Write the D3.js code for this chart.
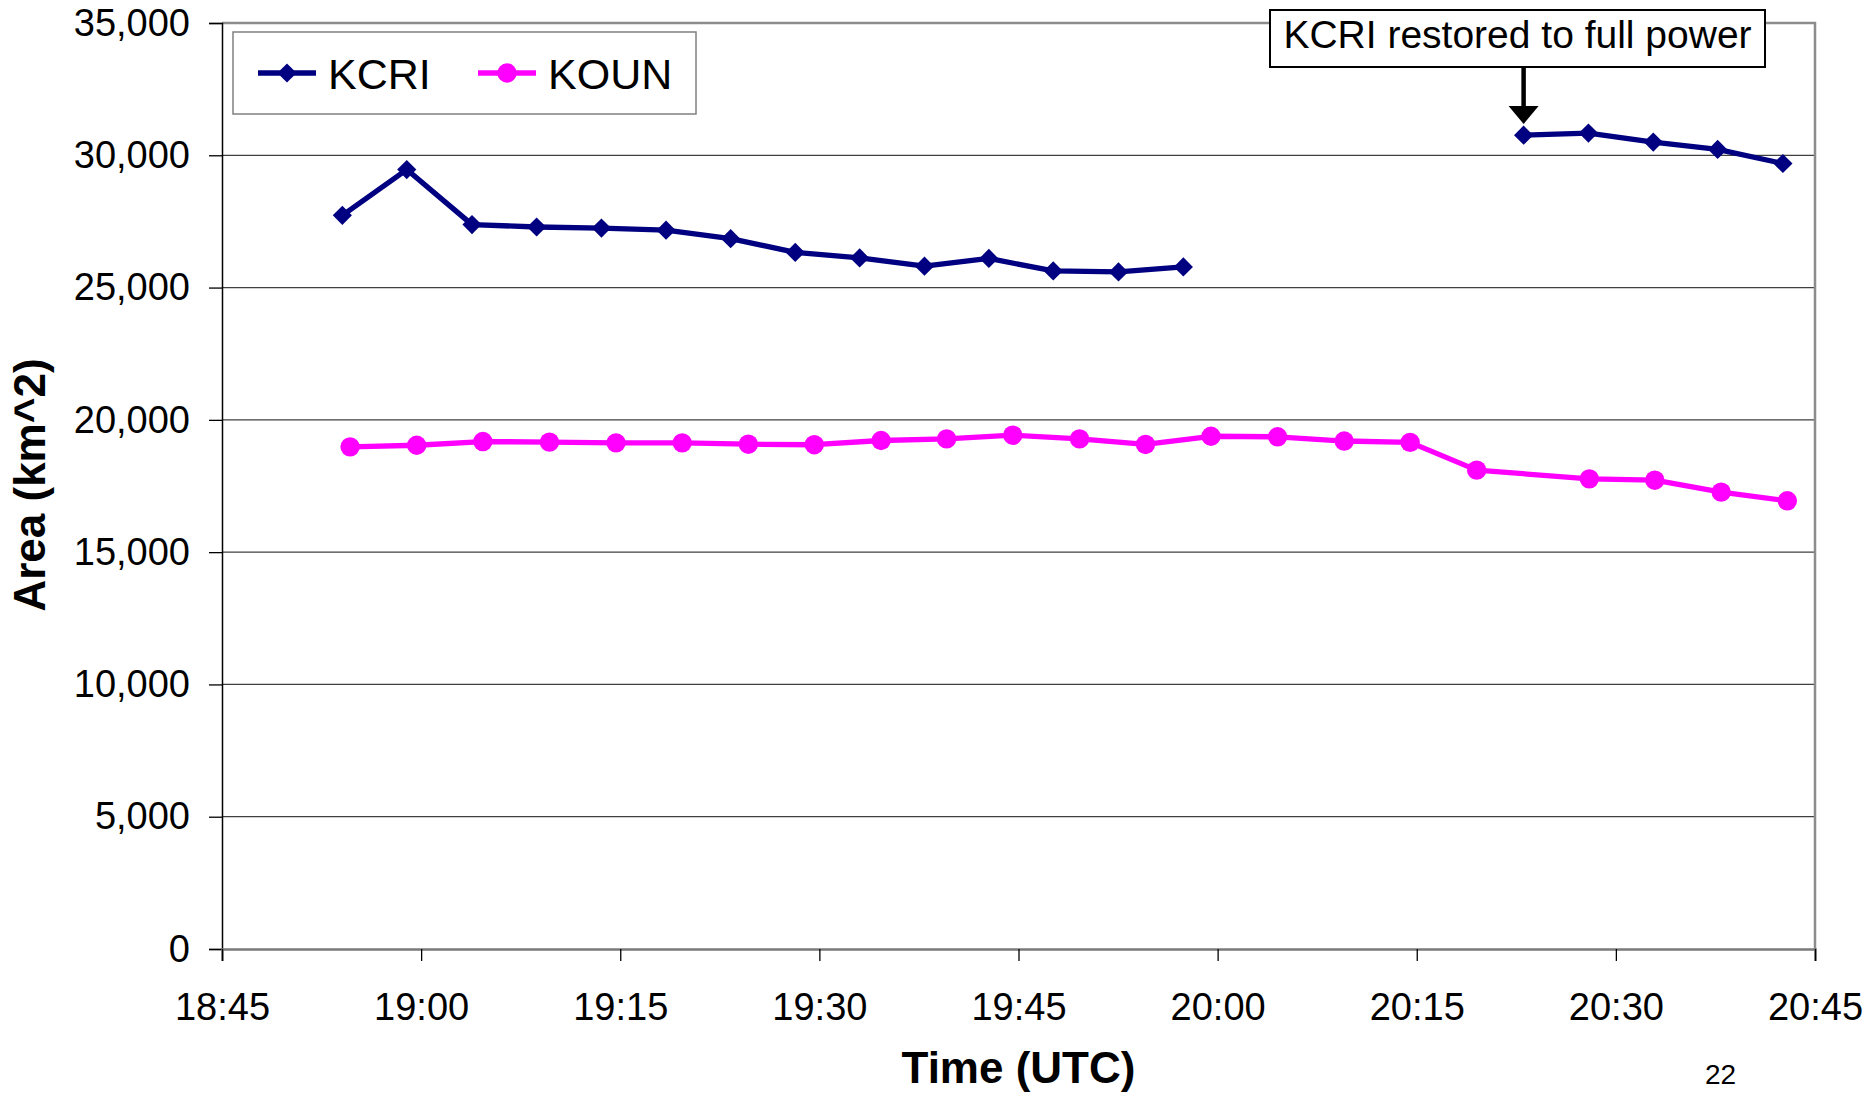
<!DOCTYPE html>
<html>
<head>
<meta charset="utf-8">
<script src="https://cdn.jsdelivr.net/npm/d3@7"></script>
<style>
  html, body { margin: 0; padding: 0; background: #fff; }
  svg { display: block; }
  text { font-family: "Liberation Sans", Arial, sans-serif; }
</style>
</head>
<body>
<svg id="chart" width="1870" height="1095"></svg>
<script>
// ---------------- data ----------------
const kcriTimes = ["18:54:04","18:58:55","19:03:50","19:08:42","19:13:35","19:18:27","19:23:19",
  "19:28:11","19:33:02","19:37:55","19:42:46","19:47:37","19:52:32","19:57:25",
  "20:23:03","20:27:56","20:32:49","20:37:40","20:42:35"];
const kcriValues = [27730,29460,27380,27290,27250,27170,26850,26330,26120,25810,26100,25630,25590,25780,
  30760,30840,30500,30220,29690];

const kounTimes = ["18:54:39","18:59:40","19:04:39","19:09:40","19:14:41","19:19:40","19:24:39",
  "19:29:37","19:34:39","19:39:35","19:44:34","19:49:36","19:54:34","19:59:30","20:04:31",
  "20:09:32","20:14:30","20:19:31","20:28:00","20:32:56","20:37:56","20:42:55"];
const kounValues = [18980,19040,19180,19160,19130,19130,19080,19060,19220,19280,19420,19280,19070,
  19380,19360,19200,19150,18100,17770,17720,17270,16940];

const xTickLabels = ["18:45","19:00","19:15","19:30","19:45","20:00","20:15","20:30","20:45"];
const yTickValues = [0,5000,10000,15000,20000,25000,30000,35000];
const seriesNames = ["KCRI","KOUN"];
const annotationText = "KCRI restored to full power";
const annotationTime = "20:23:03";
const pageNumber = "22";

// ---------------- layout ----------------
const svg = d3.select("#chart");
const M = { left: 222, right: 1815, top: 23, bottom: 949 };
const parse = d3.timeParse("%H:%M:%S");
const parseHM = d3.timeParse("%H:%M");

const x = d3.scaleTime()
  .domain([parseHM(xTickLabels[0]), parseHM(xTickLabels[xTickLabels.length - 1])])
  .range([M.left, M.right]);
const y = d3.scaleLinear().domain([0, 35000]).range([M.bottom, M.top]);

// gridlines
svg.append("g").selectAll("line")
  .data(yTickValues.filter(v => v > 0 && v < 35000))
  .join("line")
  .attr("x1", M.left).attr("x2", M.right)
  .attr("y1", d => y(d)).attr("y2", d => y(d))
  .attr("stroke", "#404040").attr("stroke-width", 1.3);

// frame top/right
svg.append("path")
  .attr("d", `M${M.left},${M.top}H${M.right}V${M.bottom}`)
  .attr("fill", "none").attr("stroke", "#8c8c8c").attr("stroke-width", 2.5);

// y axis
const yAxis = d3.axisLeft(y).tickValues(yTickValues).tickFormat(d3.format(",")).tickSize(13).tickPadding(19);
const gy = svg.append("g").attr("transform", `translate(${M.left},0)`).call(yAxis);
gy.select(".domain").attr("stroke", "#000").attr("stroke-width", 1.5);
gy.selectAll(".tick line").attr("stroke", "#000").attr("stroke-width", 1.3);
gy.selectAll(".tick text").attr("font-size", 38).attr("fill", "#000")
  .attr("font-family", "'Liberation Sans', Arial, sans-serif");

// x axis
const xAxis = d3.axisBottom(x).tickValues(xTickLabels.map(parseHM))
  .tickFormat(d3.timeFormat("%H:%M")).tickSize(12).tickPadding(32);
const gx = svg.append("g").attr("transform", `translate(0,${M.bottom})`).call(xAxis);
gx.select(".domain").attr("stroke", "#7a7a7a").attr("stroke-width", 2.5);
gx.selectAll(".tick line").attr("stroke", "#000").attr("stroke-width", 1.3);
gx.selectAll(".tick text").attr("font-size", 38).attr("fill", "#000")
  .attr("font-family", "'Liberation Sans', Arial, sans-serif");

// series
const kcri = kcriTimes.map((t, i) => ({ t: parse(t), v: kcriValues[i] }));
const koun = kounTimes.map((t, i) => ({ t: parse(t), v: kounValues[i] }));

// split KCRI where gap > 10 min
const kcriSegs = [];
kcri.forEach((d, i) => {
  if (i === 0 || (d.t - kcri[i - 1].t) > 10 * 60000) kcriSegs.push([]);
  kcriSegs[kcriSegs.length - 1].push(d);
});

const line = d3.line().x(d => x(d.t)).y(d => y(d.v));
const colKCRI = "#000080", colKOUN = "#ff00ff";
const LW = 5.3, DS = 9.6, CR = 9.7;

svg.append("g").selectAll("path").data([koun]).join("path")
  .attr("d", line).attr("fill", "none").attr("stroke", colKOUN).attr("stroke-width", LW)
  .attr("stroke-linejoin", "round");
svg.append("g").selectAll("circle").data(koun).join("circle")
  .attr("cx", d => x(d.t)).attr("cy", d => y(d.v)).attr("r", CR).attr("fill", colKOUN);

svg.append("g").selectAll("path").data(kcriSegs).join("path")
  .attr("d", line).attr("fill", "none").attr("stroke", colKCRI).attr("stroke-width", LW)
  .attr("stroke-linejoin", "round");
const diamond = s => `M0,${-s}L${s},0L0,${s}L${-s},0Z`;
svg.append("g").selectAll("path").data(kcri).join("path")
  .attr("transform", d => `translate(${x(d.t)},${y(d.v)})`)
  .attr("d", diamond(DS)).attr("fill", colKCRI);

// legend
const lg = svg.append("g");
lg.append("rect").attr("x", 233).attr("y", 32).attr("width", 463).attr("height", 82)
  .attr("fill", "#fff").attr("stroke", "#808080").attr("stroke-width", 1.5);
const legendItems = [
  { name: seriesNames[0], color: colKCRI, x0: 258, shape: "d" },
  { name: seriesNames[1], color: colKOUN, x0: 478, shape: "c" }
];
legendItems.forEach(it => {
  lg.append("line").attr("x1", it.x0).attr("x2", it.x0 + 58).attr("y1", 73).attr("y2", 73)
    .attr("stroke", it.color).attr("stroke-width", LW);
  if (it.shape === "d") {
    lg.append("path").attr("transform", `translate(${it.x0 + 29},73)`).attr("d", diamond(DS)).attr("fill", it.color);
  } else {
    lg.append("circle").attr("cx", it.x0 + 29).attr("cy", 73).attr("r", CR).attr("fill", it.color);
  }
  lg.append("text").attr("x", it.x0 + 70).attr("y", 89).attr("font-size", 43).attr("fill", "#000").text(it.name);
});

// annotation
const ax = x(parse(annotationTime));
const ag = svg.append("g");
ag.append("rect").attr("x", 1270).attr("y", 10).attr("width", 495).attr("height", 57)
  .attr("fill", "#fff").attr("stroke", "#000").attr("stroke-width", 2);
ag.append("text").attr("x", 1517.5).attr("y", 48).attr("text-anchor", "middle")
  .attr("font-size", 39).attr("fill", "#000").text(annotationText);
ag.append("line").attr("x1", ax).attr("x2", ax).attr("y1", 67).attr("y2", 108)
  .attr("stroke", "#000").attr("stroke-width", 4.5);
ag.append("path").attr("d", `M${ax - 15},106L${ax + 15},106L${ax},124Z`).attr("fill", "#000");

// axis titles
svg.append("text").attr("x", (M.left + M.right) / 2).attr("y", 1083).attr("text-anchor", "middle")
  .attr("font-size", 44).attr("font-weight", "bold").attr("fill", "#000").text("Time (UTC)");
svg.append("text").attr("transform", "translate(45,485) rotate(-90)").attr("text-anchor", "middle")
  .attr("font-size", 44).attr("font-weight", "bold").attr("fill", "#000").text("Area (km^2)");

// page number
svg.append("text").attr("x", 1705).attr("y", 1084).attr("font-family", "'Liberation Serif', 'Times New Roman', serif")
  .attr("font-size", 28).attr("fill", "#000").text(pageNumber);
</script>
</body>
</html>
